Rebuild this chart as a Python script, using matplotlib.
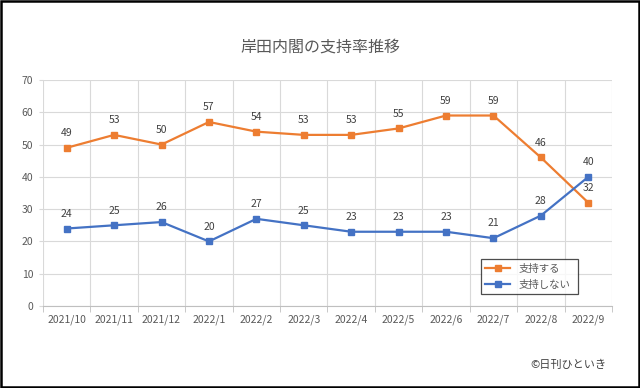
import matplotlib.pyplot as plt
import numpy as np
from matplotlib.patches import Rectangle

plt.rcParams['font.family'] = ['Noto Sans CJK JP', 'DejaVu Sans']

months = ['2021/10', '2021/11', '2021/12', '2022/1', '2022/2', '2022/3',
          '2022/4', '2022/5', '2022/6', '2022/7', '2022/8', '2022/9']
support = [49, 53, 50, 57, 54, 53, 53, 55, 59, 59, 46, 32]
nonsupport = [24, 25, 26, 20, 27, 25, 23, 23, 23, 21, 28, 40]

orange = '#ED7D31'
blue = '#4472C4'
gray_txt = '#595959'
grid_c = '#D9D9D9'

fig = plt.figure(figsize=(6.4, 3.88), dpi=100)
ax = fig.add_axes([43/640, 82/388, 569/640, 226/388])

x = np.arange(len(months))
ax.plot(x, support, color=orange, lw=1.6, marker='s', ms=4.5, label='支持する', zorder=3)
ax.plot(x, nonsupport, color=blue, lw=1.6, marker='s', ms=4.5, label='支持しない', zorder=3)

for xi, v in zip(x, support):
    ax.annotate(str(v), (xi, v), xytext=(0, 7), textcoords='offset points',
                ha='center', va='bottom', fontsize=7.5, color='#404040')
for xi, v in zip(x, nonsupport):
    ax.annotate(str(v), (xi, v), xytext=(0, 7), textcoords='offset points',
                ha='center', va='bottom', fontsize=7.5, color='#404040')

ax.set_xlim(-0.5, len(months) - 0.5)
ax.set_ylim(0, 70)
ax.set_yticks(range(0, 71, 10))
ax.set_xticks(x)
ax.set_xticklabels(months)
ax.set_xticks(np.arange(-0.5, len(months), 1), minor=True)

for s in ['top', 'right', 'left']:
    ax.spines[s].set_visible(False)
ax.spines['bottom'].set_color('#BFBFBF')

ax.grid(axis='y', color=grid_c, lw=0.8)
ax.grid(axis='x', which='minor', color=grid_c, lw=0.8)
ax.set_axisbelow(True)
ax.tick_params(axis='x', which='major', length=0, pad=6, labelsize=7.5, labelcolor=gray_txt)
ax.tick_params(axis='x', which='minor', length=4, color='#BFBFBF')
ax.tick_params(axis='y', length=3, color=grid_c, labelsize=7.5, labelcolor=gray_txt, pad=4)

fig.text(0.5, 1 - 47/388, '岸田内閣の支持率推移', ha='center', va='center',
         fontsize=11.5, color=gray_txt)

leg = ax.legend(loc='lower left', bbox_to_anchor=(481/640, 1 - 294/388, 97/640, 42/388),
                bbox_transform=fig.transFigure, mode='expand', fontsize=7.5,
                frameon=True, fancybox=False, handlelength=2.4, borderaxespad=0,
                labelspacing=0.6)
leg.get_frame().set_edgecolor('#202020')
leg.get_frame().set_linewidth(0.9)
for t in leg.get_texts():
    t.set_color(gray_txt)

fig.text(606/640, 1 - 365/388, '©日刊ひといき', ha='right', va='center',
         fontsize=8, color='#404040')

fig.patches.append(Rectangle((0.0015, 0.0025), 0.997, 0.995, transform=fig.transFigure,
                             fill=False, edgecolor='black', lw=1.8))

fig.savefig('out.png', dpi=100)
